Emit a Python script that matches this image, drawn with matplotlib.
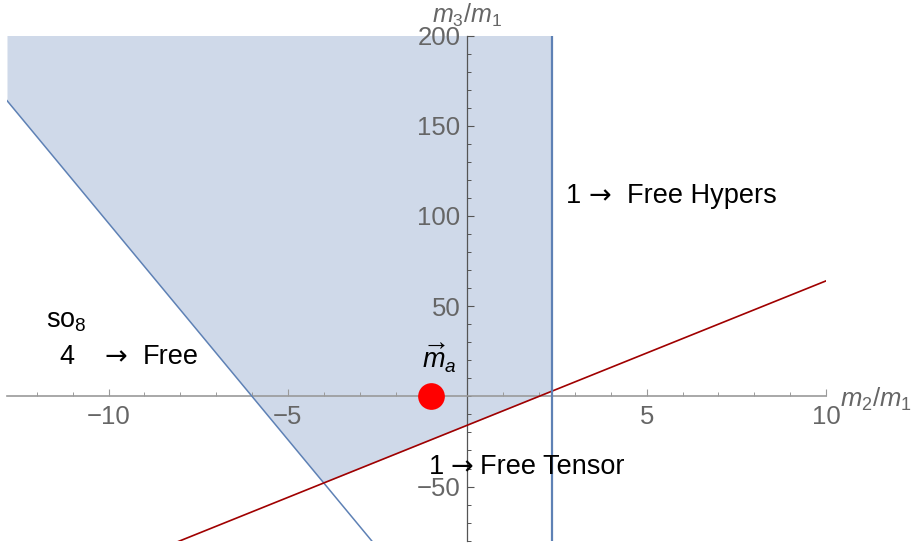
import numpy as np
import matplotlib.pyplot as plt
from matplotlib.ticker import FixedLocator, MultipleLocator

plt.rcParams['font.family'] = ['Liberation Sans', 'DejaVu Sans']
plt.rcParams['mathtext.fontset'] = 'custom'
plt.rcParams['mathtext.rm'] = 'Liberation Sans'
plt.rcParams['mathtext.it'] = 'Liberation Sans:italic'
plt.rcParams['axes.unicode_minus'] = True

# plot range
x_range = [-12.83, 10]
y_range = [-80, 200]

# boundary lines
wall_x = 2.37                 # vertical wall (Free Hypers)
blue_line = [-24, -144]       # slope, intercept of the diagonal blue line
red_line = [8, -16]           # slope, intercept of the dark red line
point_ma = [-1, 0]            # red dot

x_ticks = [-10, -5, 5, 10]
y_ticks = [-50, 50, 100, 150, 200]

# "n -> Free ..." labels: number, text, x of number / arrow / text, baseline y
flow_labels = [
    ('1', 'Free Hypers', 2.75, 3.39, 4.46, 107.0),
    ('1', 'Free Tensor', -1.06, -0.46, 0.36, -43.0),
    ('4', 'Free', -11.36, -10.10, -9.04, 17.9),
]

BLUE = '#5e81b5'
FILL = '#cfd9e9'
DARKRED = '#a00000'
GREY = '#666666'
FS = 19.5

fig = plt.figure(figsize=(9.13, 5.46), dpi=100)
ax = fig.add_axes([7 / 913, 5.3 / 546, (826 - 7) / 913, (540.7 - 35.5) / 546])
ax.set_xlim(x_range)
ax.set_ylim(y_range)

# shaded region: left of the wall, above both slanted lines
xs = np.linspace(x_range[0], wall_x, 500)
lower = np.maximum(blue_line[0] * xs + blue_line[1], red_line[0] * xs + red_line[1])
ax.fill_between(xs, lower, y_range[1], color=FILL, lw=0, zorder=1)

xl = np.array(x_range)
ax.plot(xl, blue_line[0] * xl + blue_line[1], color=BLUE, lw=1.1, zorder=3)
ax.plot(xl, red_line[0] * xl + red_line[1], color=DARKRED, lw=1.2, zorder=3)
ax.axvline(wall_x, color=BLUE, lw=1.6, zorder=3)

ax.scatter([point_ma[0]], [point_ma[1]], s=370, color='red', lw=0, zorder=5)

# axes through the origin, Mathematica style
for side in ['top', 'right']:
    ax.spines[side].set_visible(False)
ax.spines['left'].set_position(('data', 0))
ax.spines['bottom'].set_position(('data', 0))
ax.spines['bottom'].set_color('#9a9a9a')
ax.spines['bottom'].set_linewidth(1.2)
ax.spines['left'].set_color('#555555')
ax.spines['left'].set_linewidth(0.9)
ax.patch.set_alpha(0)

ax.xaxis.set_major_locator(FixedLocator(x_ticks))
ax.xaxis.set_minor_locator(MultipleLocator(1))
ax.yaxis.set_major_locator(FixedLocator(y_ticks))
ax.yaxis.set_minor_locator(MultipleLocator(10))
ax.tick_params(axis='x', which='both', direction='in', colors='#9a9a9a',
               labelcolor=GREY, labelsize=18.5, pad=6)
ax.tick_params(axis='y', which='both', direction='in', colors='#555555',
               labelcolor=GREY, labelsize=18.5, pad=5)
ax.tick_params(which='major', length=5, width=0.8)
ax.tick_params(which='minor', length=3, width=0.7)

# axis labels
ax.annotate(r'$m_2/m_1$', xy=(x_range[1], 0), xytext=(10, -2), textcoords='offset points',
            ha='left', va='center', fontsize=18.5, color=GREY, annotation_clip=False)
ax.annotate(r'$m_3/m_1$', xy=(0, y_range[1]), xytext=(0, 5), textcoords='offset points',
            ha='center', va='bottom', fontsize=18, color=GREY, annotation_clip=False)

# text labels
for num, txt, x_num, x_arr, x_txt, y in flow_labels:
    ax.text(x_num, y, num, fontsize=FS, ha='left', va='baseline', zorder=6)
    ax.text(x_arr, y, '\u2192', fontsize=FS, family='DejaVu Sans',
            ha='left', va='baseline', zorder=6)
    ax.text(x_txt, y, txt, fontsize=FS, ha='left', va='baseline', zorder=6)

ax.text(-11.73, 38.0, r'so$_8$', fontsize=FS, ha='left', va='baseline', zorder=6)
ax.text(-1.27, 15.2, r'$\overrightarrow{m}_a$', fontsize=FS, ha='left', va='baseline', zorder=6)

fig.savefig('out.png', dpi=100)
